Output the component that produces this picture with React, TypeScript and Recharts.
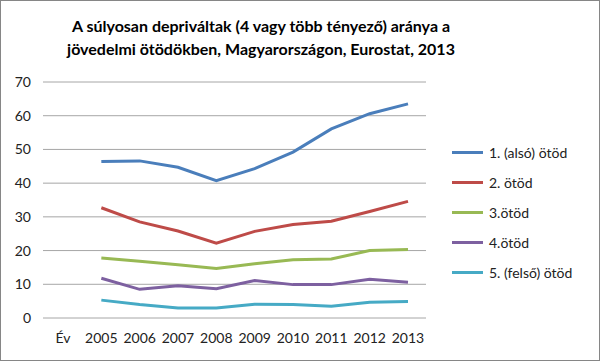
import { LineChart, Line, XAxis, YAxis, CartesianGrid } from "recharts";

// Category labels: first slot is the axis caption "Év", with no data
const YEARS = ["Év", "2005", "2006", "2007", "2008", "2009", "2010", "2011", "2012", "2013"];

// Values (%), null for the "Év" slot
const Q1 = [null, 46.4, 46.6, 44.7, 40.7, 44.3, 49.2, 56.1, 60.6, 63.5];
const Q2 = [null, 32.7, 28.5, 25.8, 22.2, 25.7, 27.7, 28.7, 31.6, 34.6];
const Q3 = [null, 17.8, 16.8, 15.8, 14.7, 16.1, 17.3, 17.5, 20.0, 20.3];
const Q4 = [null, 11.8, 8.5, 9.6, 8.7, 11.1, 9.9, 9.9, 11.5, 10.6];
const Q5 = [null, 5.3, 4.0, 3.0, 3.0, 4.1, 4.0, 3.5, 4.7, 4.9];

const Y_TICKS = [0, 10, 20, 30, 40, 50, 60, 70];

const SERIES = [
  { key: "q1", name: "1. (alsó) ötöd", color: "#4A7EBB", values: Q1 },
  { key: "q2", name: "2. ötöd", color: "#BE4B48", values: Q2 },
  { key: "q3", name: "3.ötöd", color: "#98B954", values: Q3 },
  { key: "q4", name: "4.ötöd", color: "#7D60A0", values: Q4 },
  { key: "q5", name: "5. (felső) ötöd", color: "#46AAC5", values: Q5 },
];

const FONT = "Lato, 'Open Sans', sans-serif";

const data = YEARS.map((year, i) => {
  const row: any = { year };
  SERIES.forEach((s) => {
    row[s.key] = s.values[i];
  });
  return row;
});

// Legend drawn as plain html so it doesn't eat into the plot area
const LegendBox = () => (
  <div
    style={{
      position: "absolute",
      left: 451,
      top: 136,
      fontFamily: FONT,
      fontSize: 14,
      color: "#222",
    }}
  >
    {SERIES.map((s) => (
      <div key={s.key} style={{ display: "flex", alignItems: "center", height: 30 }}>
        <div
          style={{ width: 31, height: 3, backgroundColor: s.color, marginRight: 6 }}
        />
        <span>{s.name}</span>
      </div>
    ))}
  </div>
);

export default function App() {
  return (
    <div
      style={{
        position: "absolute",
        left: 0,
        top: 0,
        width: 598,
        height: 359,
        border: "1px solid #868686",
        background: "#fff",
      }}
    >
      <div
        style={{
          position: "absolute",
          left: 0,
          top: 13,
          width: 520,
          textAlign: "center",
          fontFamily: FONT,
          fontWeight: 700,
          fontSize: 16,
          lineHeight: "23px",
          color: "#000",
        }}
      >
        A súlyosan depriváltak (4 vagy több tényező) aránya a
        <br />
        jövedelmi ötödökben, Magyarországon, Eurostat, 2013
      </div>
      <LineChart
        width={598}
        height={359}
        data={data}
        margin={{ top: 81, right: 173, bottom: 0, left: 0 }}
      >
        <CartesianGrid vertical={false} stroke="#a6a6a6" />
        <XAxis
          dataKey="year"
          height={42}
          axisLine={false}
          tickLine={false}
          tickSize={0}
          tickMargin={15}
          interval={0}
          padding={{ left: 20, right: 18 }}
          tick={{ fill: "#222", fontSize: 14, fontFamily: FONT }}
        />
        <YAxis
          width={42}
          domain={[0, 70]}
          ticks={Y_TICKS}
          axisLine={false}
          tickLine={false}
          tickSize={0}
          tickMargin={12}
          tick={{ fill: "#222", fontSize: 14, fontFamily: FONT }}
        />
        {SERIES.map((s) => (
          <Line
            key={s.key}
            type="linear"
            dataKey={s.key}
            name={s.name}
            stroke={s.color}
            strokeWidth={3}
            dot={false}
            isAnimationActive={false}
          />
        ))}
      </LineChart>
      <LegendBox />
    </div>
  );
}
